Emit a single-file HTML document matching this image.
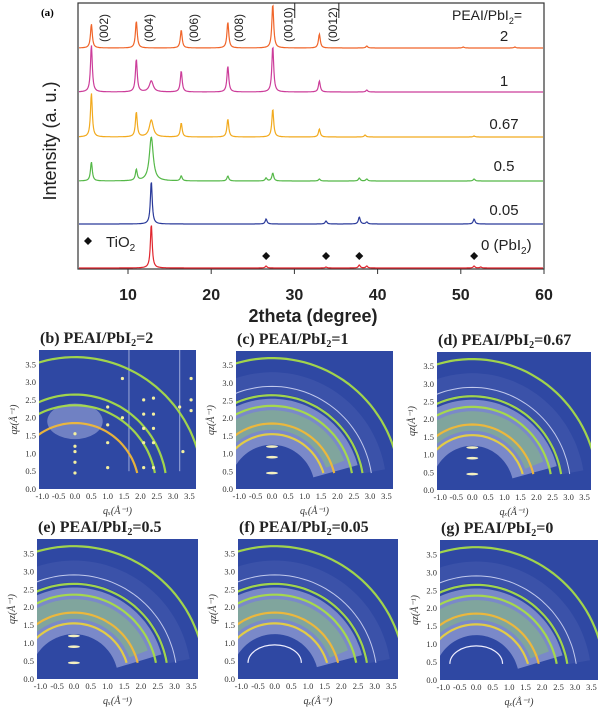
<!DOCTYPE html>
<html><head><meta charset="utf-8"><style>
body{margin:0;background:#fff;width:600px;height:716px;overflow:hidden}
svg{display:block}
</style></head><body>
<svg id="fig" width="600" height="716" viewBox="0 0 600 716" font-family="Liberation Sans, sans-serif">
<g id="xrd"></g>
<g id="panels"></g>
</svg>
<script>
// ---------- XRD data ----------
const seriesNames = ["2","1","0.67","0.5","0.05","0 (PbI2)"];
const seriesColors = ["#f0652a","#cc3d9a","#f2aa1e","#55b848","#2a3a9a","#e0262e"];
const peakPos2 = [5.6,11.0,16.4,22.0,27.4,33.0,38.7,50.3,56.5];
const peakInt2 = [24,27,18,26,44,14,2,1,1];
const peakPos1 = [5.6,11.0,12.8,16.4,22.0,27.4,33.0,38.7];
const peakInt1 = [47,33,11,21,26,46,11,2];
const peakPos067 = [5.6,11.0,12.8,16.4,22.0,27.4,33.0,38.5,51.6];
const peakInt067 = [44,25,17,14,18,28,8,2,1];
const peakPos05 = [5.6,11.0,12.8,16.4,22.0,26.6,27.4,33.0,37.8,38.7,51.6];
const peakInt05 = [19,11,44,5,5,3,8,2,3,2,2];
const peakPos005 = [12.8,26.6,33.8,37.8,38.7,51.6];
const peakInt005 = [43,5,3,7,2,5];
const peakPos0 = [12.8,26.6,33.8,37.8,38.7,51.6,52.4];
const peakInt0 = [44,2,1,3,2,2,1];
const xTicks = [10,20,30,40,50,60];
const tio2Pos = [26.6,33.8,37.8,51.6];
const millerLabels = ["(002)","(004)","(006)","(008)","(0010)","(0012)"];
const millerPos = [7.0,12.4,17.8,23.2,29.2,34.5];

const NS="http://www.w3.org/2000/svg";
function el(tag,attrs,parent){const e=document.createElementNS(NS,tag);for(const k in attrs)e.setAttribute(k,attrs[k]);parent.appendChild(e);return e;}
const xrd=document.getElementById('xrd');
const X0=78,X1=544,Y0=3,Y1=269;
const xs=v=>128+(v-10)*8.32;
const xinv=p=>10+(p-128)/8.32;
const baselines=[48,92,137,181,224,268];
const allPos=[peakPos2,peakPos1,peakPos067,peakPos05,peakPos005,peakPos0];
const allInt=[peakInt2,peakInt1,peakInt067,peakInt05,peakInt005,peakInt0];

let frame=el('rect',{x:X0,y:Y0,width:X1-X0,height:Y1-Y0,fill:'none',stroke:'#333','stroke-width':1.2},xrd);


allPos.forEach((pos,si)=>{
  let d='';
  for(let px=X0+1;px<=X1-1;px+=0.5){
    const v=xinv(px);
    let I=0;
    pos.forEach((p,i)=>{const w=(p===12.8&&si>=1&&si<=3)?0.28:0.13;I+=allInt[si][i]/(1+((v-p)/w)**2);});
    d+=(d?'L':'M')+px.toFixed(1)+','+(baselines[si]-I).toFixed(1);
  }
  const path=el('path',{d:d,fill:'none',stroke:seriesColors[si],'stroke-width':1.2},xrd);
  
  
});
xTicks.forEach(t=>{
  const tk=el('line',{x1:xs(t),x2:xs(t),y1:Y1,y2:Y1+5,stroke:'#333'},xrd);
  
  const tx=el('text',{x:xs(t),y:300,'text-anchor':'middle','font-size':16,'font-weight':'bold',fill:'#222'},xrd);
  tx.textContent=t;
  
});
millerPos.forEach((p,i)=>{
  const x=xs(p)+5,y=42;
  const tx=el('text',{x:x,y:y,transform:`rotate(-90 ${x} ${y})`,'font-size':12,fill:'#222'},xrd);
  tx.textContent=millerLabels[i];
  
  if(i>=4){
    const ob=el('line',{x1:x+2,x2:x+2,y1:3,y2:18,stroke:'#222','stroke-width':1},xrd);
    
  }
});
tio2Pos.forEach(p=>{
  const x=xs(p),y=256;
  const dm=el('path',{d:`M${x},${y-4}L${x+4},${y}L${x},${y+4}L${x-4},${y}Z`,fill:'#111'},xrd);
  
});
</script>
<script>
(function(){
const xrd=document.getElementById('xrd');
xrd.insertAdjacentHTML('beforeend',`
<path d="M88,237L92,241L88,245L84,241Z" fill="#111"/>
<text x="106" y="247" font-size="15" fill="#222">TiO<tspan font-size="10" dy="4">2</tspan></text>
<text x="41" y="16" font-size="11" font-weight="bold" font-family="Liberation Serif, serif">(a)</text>
<text x="0" y="0" transform="translate(56,141) rotate(-90)" text-anchor="middle" font-size="18" fill="#222">Intensity (a. u.)</text>
<text x="313" y="322" text-anchor="middle" font-size="18" font-weight="bold" fill="#222">2theta (degree)</text>
<text x="452" y="20" font-size="14" fill="#222">PEAI/PbI<tspan font-size="9" dy="4">2</tspan><tspan dy="-4">=</tspan></text>
<text x="504" y="41" text-anchor="middle" font-size="15" fill="#222">2</text>
<text x="504" y="86" text-anchor="middle" font-size="15" fill="#222">1</text>
<text x="504" y="129" text-anchor="middle" font-size="15" fill="#222">0.67</text>
<text x="504" y="171" text-anchor="middle" font-size="15" fill="#222">0.5</text>
<text x="504" y="215" text-anchor="middle" font-size="15" fill="#222">0.05</text>
<text x="481" y="250" font-size="15" fill="#222">0 (PbI<tspan font-size="10" dy="4">2</tspan><tspan dy="-4">)</tspan></text>
`);
})();
</script>
<script>
// ---------- GIWAXS panels ----------
const panelTitles = ["(b) PEAI/PbI","(c) PEAI/PbI","(d) PEAI/PbI","(e) PEAI/PbI","(f) PEAI/PbI","(g) PEAI/PbI"];
const panelValues = ["=2","=1","=0.67","=0.5","=0.05","=0"];
const ringRadii = [1.55,1.85,2.35,2.65,2.9,3.7];
const ringColors = ["#e8d040","#f0b838","#a8dc48","#a8dc48","#c8d0f0","#a8dc48"];
const qxTicks = [-1.0,-0.5,0.0,0.5,1.0,1.5,2.0,2.5,3.0,3.5];
const qzTicks = [0.0,0.5,1.0,1.5,2.0,2.5,3.0,3.5];
const spotQx = [0,0,0,0,0,1.0,1.0,1.0,1.0,1.45,1.45,2.1,2.1,2.1,2.1,2.1,2.4,2.4,2.4,2.4,2.4,3.2,3.3,3.55,3.55,3.55];
const spotQz = [0.45,0.75,1.05,1.2,1.55,2.3,1.8,1.3,0.6,3.1,2.0,2.5,2.1,1.7,1.3,0.6,2.55,2.1,1.7,1.3,0.6,2.3,1.05,2.5,2.2,3.1];
const panelRects = [[39,350,157,139],[236,351,157,138],[437,352,154,138],[37,539,161,140],[238,539,160,140],[440,540,158,140]];

const panels=document.getElementById('panels');
panelRects.forEach((r,pi)=>{
  const [px,py,pw,ph]=r;
  const g=el('g',{},panels);
  
  
  const qx=v=>px+(v+1.1)/4.8*pw;
  const qz=v=>py+ph-(v/3.9)*ph;
  const cid='clip'+pi;
  const cp=el('clipPath',{id:cid},g);el('rect',{x:px,y:py,width:pw,height:ph},cp);
  const bg=el('rect',{x:px,y:py,width:pw,height:ph,fill:'#2f48a3'},g);
  
  const inner=el('g',{'clip-path':`url(#${cid})`},g);
  const cx=qx(0),cy=qz(0);
  const sx=pw/4.8*1.06, sy=ph/3.9;
  const arc=(rr,zEnd)=>{
    const t0=Math.PI*0.95,t1=Math.asin(Math.min(0.99,zEnd/rr));
    let d='';
    for(let k=0;k<=60;k++){const t=t0+(t1-t0)*k/60;d+=(k?'L':'M')+(cx+Math.cos(t)*rr*sx).toFixed(1)+','+(cy-Math.sin(t)*rr*sy).toFixed(1);}
    return d;
  };
  if(pi>0){
    const b1=el('path',{d:arc(1.9,0.5),fill:'none',stroke:'#b8c0ea','stroke-width':1.3*sy,'stroke-opacity':0.55},inner);
    
    const b2=el('path',{d:arc(1.95,0.7),fill:'none',stroke:'#88c868','stroke-width':0.55*sy,'stroke-opacity':0.45},inner);
    
    const b3=el('path',{d:arc(3.0,0.5),fill:'none',stroke:'#8090d0','stroke-width':0.6*sy,'stroke-opacity':0.15},inner);
    
  } else {
    const h=el('ellipse',{cx:qx(0),cy:qz(1.9),rx:0.8*sx,ry:0.5*sy,fill:'#c0c8ec','fill-opacity':0.45},inner);
    
    [1.65,3.2].forEach(v=>{
      const l=el('line',{x1:qx(v),x2:qx(v),y1:qz(0.5),y2:qz(3.9),stroke:'#c8d0f0','stroke-width':1.2,'stroke-opacity':0.6},inner);
      
    });
  }
  ringRadii.forEach((rr,i)=>{
    if(pi===0&&(i===0||i===4))return;
    const a=el('path',{d:arc(rr,0.45),fill:'none',stroke:ringColors[i],'stroke-width':i===4?1:2.2,'stroke-opacity':0.95},inner);
    
  });
  if(pi===0){
    spotQx.forEach((v,i)=>{
      const s=el('circle',{cx:qx(v),cy:qz(spotQz[i]),r:1.6,fill:'#f4f0a0'},inner);
      
    });
  } else if(pi<=3){
    [0.45,0.9,1.2].forEach(z=>{
      const s=el('ellipse',{cx:qx(0),cy:qz(z),rx:6,ry:1.3,fill:'#f4f0c0'},inner);
      
    });
  } else {
    const hx=0.8*pw/4.8;
    const s=el('path',{d:`M${qx(-0.8)},${qz(0.45)}A${hx},${0.5*sy} 0 0 1 ${qx(0.8)},${qz(0.45)}`,fill:'none',stroke:'#eef',"stroke-width":1.2},inner);
    
  }
  qxTicks.forEach(t=>{
    const tx=el('text',{x:qx(t),y:py+ph+10,'text-anchor':'middle','font-size':8.5,'font-family':'Liberation Serif, serif',fill:'#333'},g);
    tx.textContent=t.toFixed(1);
    
  });
  qzTicks.forEach(t=>{
    const tx=el('text',{x:px-3,y:qz(t)+3,'text-anchor':'end','font-size':8.5,'font-family':'Liberation Serif, serif',fill:'#333'},g);
    tx.textContent=t.toFixed(1);
    
  });
  const xl=el('text',{x:px+pw/2,y:py+ph+25,'text-anchor':'middle','font-size':10,'font-family':'Liberation Serif, serif','font-style':'italic',fill:'#333'},g);
  xl.textContent='qₓ(Å⁻¹)';
  
  const yl=el('text',{x:0,y:0,transform:`translate(${px-22},${py+ph/2}) rotate(-90)`,'text-anchor':'middle','font-size':10,'font-family':'Liberation Serif, serif','font-style':'italic',fill:'#333'},g);
  yl.textContent='qz(Å⁻¹)';
  
  const ti=el('text',{x:px+1,y:py-7,'font-size':16,'font-weight':'bold','font-family':'Liberation Serif, serif',fill:'#222'},g);
  ti.innerHTML=panelTitles[pi]+'<tspan font-size="10" dy="3">2</tspan><tspan dy="-3">'+panelValues[pi]+'</tspan>';
  
});
</script>
</body></html>
